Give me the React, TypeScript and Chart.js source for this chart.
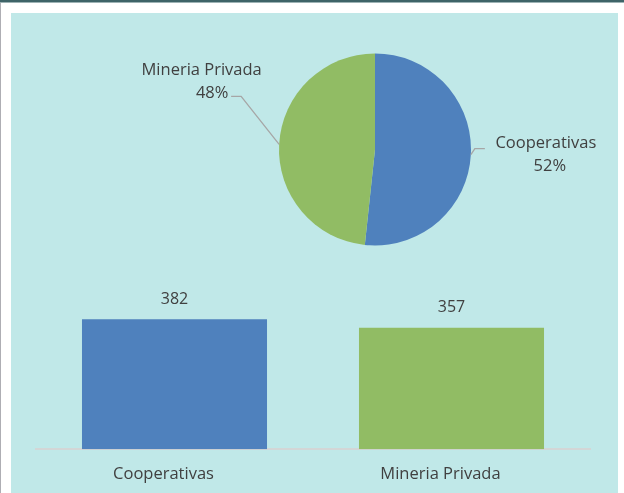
import React, { useEffect, useRef } from "react";
import { Chart, registerables } from "chart.js";

Chart.register(...registerables);

const categories: string[] = ["Cooperativas", "Mineria Privada"];
const values: number[] = [382, 357];
const sliceColors: string[] = ["#4F81BD", "#91BC64"];
const yMax = 450;

const FONT = "'Open Sans', 'Noto Sans', sans-serif";
const TEXT = "#404040";

const pieLabelPlugin = {
  id: "pieLabels",
  afterDatasetsDraw(chart: any) {
    const ctx = chart.ctx;
    const meta = chart.getDatasetMeta(0);
    const ds = chart.data.datasets[0].data as number[];
    const total = ds.reduce((a, b) => a + b, 0);
    ctx.save();
    ctx.font = `16.5px ${FONT}`;
    ctx.fillStyle = TEXT;
    ctx.textAlign = "center";
    ctx.textBaseline = "middle";
    meta.data.forEach((arc: any, i: number) => {
      const p = arc.getProps(["x", "y", "startAngle", "endAngle", "outerRadius"], true);
      const mid = (p.startAngle + p.endAngle) / 2;
      const px = p.x + Math.cos(mid) * p.outerRadius;
      const py = p.y + Math.sin(mid) * p.outerRadius;
      const right = Math.cos(mid) >= 0;
      let ex: number, ey: number, fx: number;
      let t1x: number, t2x: number, ty1: number, ty2: number;
      if (right) {
        ex = px + 4; ey = py - 6; fx = ex + 10;
        t1x = fx + 61; t2x = fx + 65; ty1 = ey - 5; ty2 = ey + 18;
      } else {
        ex = px - 38; ey = py - 48; fx = ex - 10;
        t1x = fx - 29.5; t2x = fx - 19; ty1 = ey - 26; ty2 = ey - 3;
      }
      ctx.strokeStyle = "#A6A6A6";
      ctx.lineWidth = 1.3;
      ctx.beginPath();
      ctx.moveTo(px, py);
      ctx.lineTo(ex, ey);
      ctx.lineTo(fx, ey);
      ctx.stroke();
      const pct = Math.round((ds[i] / total) * 100) + "%";
      ctx.fillText(chart.data.labels[i], t1x, ty1);
      ctx.fillText(pct, t2x, ty2);
    });
    ctx.restore();
  },
};

const barValuePlugin = {
  id: "barValues",
  afterDatasetsDraw(chart: any) {
    const ctx = chart.ctx;
    const meta = chart.getDatasetMeta(0);
    const ds = chart.data.datasets[0].data as number[];
    ctx.save();
    ctx.font = `16px ${FONT}`;
    ctx.fillStyle = TEXT;
    ctx.textAlign = "center";
    ctx.textBaseline = "middle";
    meta.data.forEach((bar: any, i: number) => {
      const p = bar.getProps(["x", "y"], true);
      ctx.fillText(String(ds[i]), p.x, p.y - 20);
    });
    ctx.restore();
  },
};

export default function App() {
  const pieRef = useRef<HTMLCanvasElement>(null);
  const barRef = useRef<HTMLCanvasElement>(null);

  useEffect(() => {
    document.body.style.margin = "0";
    Chart.defaults.font.family = FONT;
    Chart.defaults.color = TEXT;

    const pie = new Chart(pieRef.current!, {
      type: "pie",
      data: {
        labels: categories,
        datasets: [
          {
            data: values,
            backgroundColor: sliceColors,
            borderWidth: 0,
          },
        ],
      },
      options: {
        animation: false,
        responsive: false,
        maintainAspectRatio: false,
        layout: { padding: { left: 268, right: 147, top: 40.5, bottom: 14.5 } },
        plugins: { legend: { display: false }, tooltip: { enabled: false } },
      },
      plugins: [pieLabelPlugin],
    });

    const bar = new Chart(barRef.current!, {
      type: "bar",
      data: {
        labels: categories,
        datasets: [
          {
            data: values,
            backgroundColor: sliceColors,
            borderWidth: 0,
            categoryPercentage: 0.668,
            barPercentage: 1,
          },
        ],
      },
      options: {
        animation: false,
        responsive: false,
        maintainAspectRatio: false,
        layout: { padding: { left: 25, right: 28, top: 26, bottom: 0 } },
        plugins: { legend: { display: false }, tooltip: { enabled: false } },
        scales: {
          x: {
            grid: { display: false, drawTicks: false },
            border: { display: true, color: "#D3D6D6", width: 2 },
            ticks: {
              color: TEXT,
              font: { size: 16.5, family: FONT, lineHeight: 1.2 },
              padding: 15,
              labelOffset: -11,
            },
          },
          y: {
            display: false,
            min: 0,
            max: yMax,
          },
        },
      },
      plugins: [barValuePlugin],
    });

    return () => {
      pie.destroy();
      bar.destroy();
    };
  }, []);

  return (
    <div
      style={{
        position: "fixed",
        left: 0,
        top: 0,
        width: 624,
        height: 493,
        overflow: "hidden",
        background: "#FFFFFF",
      }}
    >
      <div style={{ position: "absolute", left: 0, top: 0, width: 624, height: 2, background: "#3E6468" }} />
      <div style={{ position: "absolute", left: 0, top: 2, width: 624, height: 1, background: "#9DB3B5" }} />
      <div style={{ position: "absolute", left: 0, top: 3, width: 1, height: 490, background: "#AEAEB4" }} />
      <div
        style={{
          position: "absolute",
          left: 11,
          top: 13,
          width: 607,
          height: 480,
          overflow: "hidden",
          background: "#C0E8E8",
        }}
      >
        <canvas
          ref={pieRef}
          width={607}
          height={247}
          style={{ position: "absolute", left: 0, top: 0, width: 607, height: 247 }}
        />
        <canvas
          ref={barRef}
          width={607}
          height={229}
          style={{ position: "absolute", left: 0, top: 257, width: 607, height: 229 }}
        />
      </div>
    </div>
  );
}
